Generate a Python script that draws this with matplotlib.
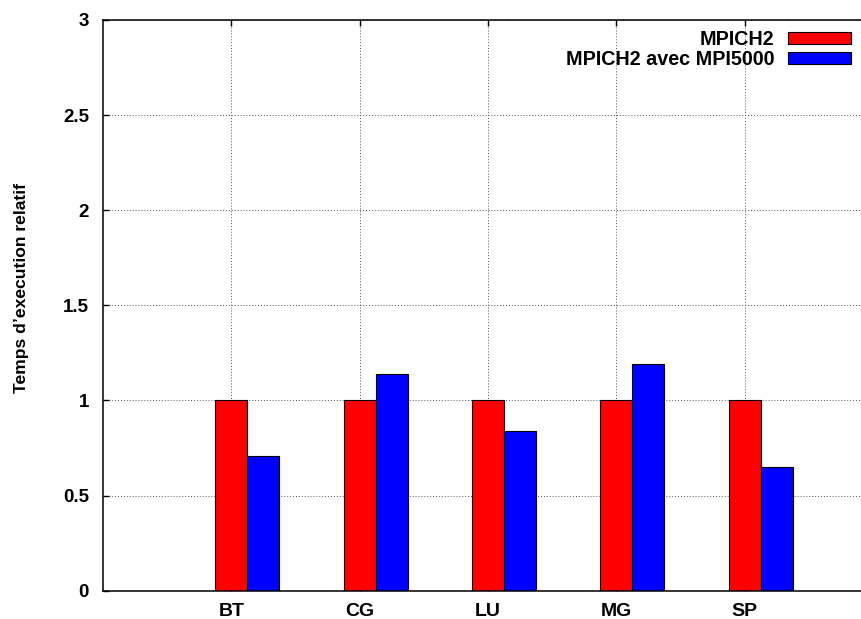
import numpy as np
import matplotlib.pyplot as plt
from matplotlib.patches import Patch

# data
benchmarks = ['BT', 'CG', 'LU', 'MG', 'SP']
mpich2 = [1.0, 1.0, 1.0, 1.0, 1.0]
mpich2_mpi5000 = [0.71, 1.14, 0.84, 1.19, 0.65]
yticks = [0, 0.5, 1, 1.5, 2, 2.5, 3]
ytick_labels = ['0', '0.5', '1', '1.5', '2', '2.5', '3']

plt.rcParams['font.family'] = ['Liberation Sans', 'DejaVu Sans']
plt.rcParams['font.weight'] = 'bold'

W, H = 862, 619
fig = plt.figure(figsize=(W / 100, H / 100), dpi=100)
# axes run past the right edge of the picture, as in the reference
ax = fig.add_axes([103 / W, (H - 590.7) / H, 770 / W, 570.7 / H])

x = np.arange(1, len(benchmarks) + 1)
w = 0.25
# gnuplot-style: first bar centred on the tick, second one to its right
ax.bar(x, mpich2, w, color='#ff0000', edgecolor='black', linewidth=0.8, zorder=3)
ax.bar(x + w, mpich2_mpi5000, w, color='#0000ff', edgecolor='black', linewidth=0.8, zorder=3)

ax.set_xlim(0, 6)
ax.set_ylim(0, 3)
ax.set_xticks(x)
ax.set_xticklabels(benchmarks, fontsize=14, fontweight='bold')
ax.set_yticks(yticks)
ax.set_yticklabels(ytick_labels, fontsize=13.5, fontweight='bold')

ax.tick_params(axis='x', direction='in', length=4, width=1, top=True, bottom=True, pad=9)
ax.tick_params(axis='y', direction='in', length=4, width=1, right=False, pad=10)

ax.grid(True, linestyle=(0, (1, 2)), color='#555555', linewidth=0.7, zorder=0)
ax.set_axisbelow(True)

for s in ['left', 'top', 'bottom']:
    ax.spines[s].set_linewidth(1.1)
    ax.spines[s].set_zorder(4)
ax.spines['right'].set_visible(False)

ax.set_ylabel('Temps d\u2019execution relatif', fontsize=12.6, fontweight='bold')
ax.yaxis.set_label_coords(-0.096, 0.531)

handles = [Patch(facecolor='#ff0000', edgecolor='black', linewidth=0.8, label='MPICH2'),
           Patch(facecolor='#0000ff', edgecolor='black', linewidth=0.8, label='MPICH2 avec MPI5000')]
leg = ax.legend(handles=handles, loc='upper right',
                bbox_to_anchor=((850.5 - 103) / 770, (590.7 - 30) / 570.7),
                frameon=False, markerfirst=False, prop={'weight': 'bold', 'size': 14.2},
                handlelength=3.15, handleheight=0.52, handletextpad=0.72, labelspacing=0.05,
                borderaxespad=0, borderpad=0)
for t in leg.get_texts():
    t.set_ha('right')

fig.savefig('out.png', dpi=100)
